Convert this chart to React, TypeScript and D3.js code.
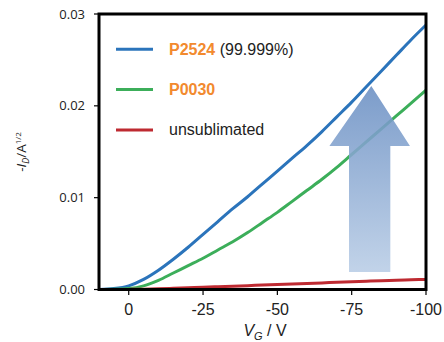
import React from "react";
import * as d3 from "d3";

const vg = [10, 5, 0, -5, -10, -15, -20, -25, -30, -35, -40, -45, -50, -55, -60, -65, -70, -75, -80, -85, -90, -95, -100];
const p2524 = [0, 0.0001, 0.0004, 0.0011, 0.0021, 0.0033, 0.0046, 0.006, 0.0074, 0.0088, 0.0101, 0.0115, 0.0129, 0.0143, 0.0157, 0.0172, 0.0188, 0.0204, 0.0221, 0.0238, 0.0255, 0.0272, 0.0288];
const p0030 = [0, 0.00002, 0.0001, 0.0004, 0.001, 0.0018, 0.0026, 0.0034, 0.0043, 0.0052, 0.0062, 0.0073, 0.0084, 0.0096, 0.0108, 0.012, 0.0133, 0.0147, 0.0161, 0.0175, 0.0189, 0.0203, 0.0217];
const unsub = [0, 0, 0.00001, 0.00004, 0.00008, 0.00013, 0.00019, 0.00025, 0.0003, 0.00036, 0.00042, 0.00048, 0.00054, 0.0006, 0.00066, 0.00072, 0.00078, 0.00084, 0.0009, 0.00096, 0.001, 0.00105, 0.0011];
const xTicks = [0, -25, -50, -75, -100];
const yTicks = [0, 0.01, 0.02, 0.03];

const series = [
  { name: "P2524", extra: " (99.999%)", values: p2524, color: "#2b74bb", bold: true },
  { name: "P0030", extra: "", values: p0030, color: "#3cae5a", bold: true },
  { name: "unsublimated", extra: "", values: unsub, color: "#be2a31", bold: false },
];

export default function App() {
  const left = 99, right = 426, top = 14, bottom = 289.5;
  const x = d3.scaleLinear().domain([10, -100]).range([left, right]);
  const y = d3.scaleLinear().domain([0, 0.03]).range([bottom, top]);
  const line = d3
    .line<number>()
    .x((_, i) => x(vg[i]))
    .y((d) => y(d))
    .curve(d3.curveMonotoneX);

  return (
    <svg width={444} height={342} style={{ position: "absolute", left: 0, top: 0 }}>
      <defs>
        <clipPath id="plot">
          <rect x={left} y={top} width={right - left} height={bottom - top} />
        </clipPath>
        <linearGradient id="arrowGrad" x1="0" y1="0" x2="0" y2="1">
          <stop offset="0%" stopColor="#6a8fc3" />
          <stop offset="100%" stopColor="#b9cde6" />
        </linearGradient>
      </defs>
      <rect width={444} height={342} fill="#fff" />
      <g clipPath="url(#plot)">
        {series.map((s) => (
          <path key={s.name} d={line(s.values) || ""} fill="none" stroke={s.color} strokeWidth={3} />
        ))}
      </g>
      {/* arrow */}
      <path
        d={`M${x(-81.6)},86 L${x(-94.6)},146 L${x(-88)},146 L${x(-88)},272 L${x(-74.1)},272 L${x(-74.1)},146 L${x(-67.5)},146 Z`}
        fill="url(#arrowGrad)"
        opacity={0.88}
      />
      {/* frame */}
      <rect x={left} y={top} width={right - left} height={bottom - top} fill="none" stroke="#000" strokeWidth={3} />
      {/* y ticks */}
      {yTicks.map((t) => (
        <g key={t}>
          <line x1={left - 5} x2={left} y1={y(t)} y2={y(t)} stroke="#000" strokeWidth={1.2} />
          <text x={85} y={y(t) + 4.5} textAnchor="end" fontFamily="'Open Sans', sans-serif" fontSize={13} fill="#222">
            {t.toFixed(2)}
          </text>
        </g>
      ))}
      {xTicks.map((t) => (
        <g key={t}>
          <line x1={x(t)} x2={x(t)} y1={bottom} y2={bottom + 5.5} stroke="#000" strokeWidth={1.2} />
          <text x={x(t)} y={315} textAnchor="middle" fontFamily="'Liberation Sans', Arial, sans-serif" fontSize={16} fill="#222">
            {t === 0 ? "0" : String(t)}
          </text>
        </g>
      ))}
      {/* x label */}
      <text x={265} y={336} textAnchor="middle" fontFamily="'Liberation Sans', Arial, sans-serif" fontSize={16} fill="#222">
        <tspan fontStyle="italic">V</tspan>
        <tspan fontStyle="italic" fontSize={11} dy={4}>G</tspan>
        <tspan dy={-4}> / V</tspan>
      </text>
      {/* y label */}
      <text
        transform="translate(26,152) rotate(-90)"
        textAnchor="middle"
        fontFamily="'Open Sans', sans-serif"
        fontSize={13.5}
        fill="#222"
      >
        <tspan>-</tspan>
        <tspan fontStyle="italic">I</tspan>
        <tspan fontStyle="italic" fontSize={9} dy={3}>D</tspan>
        <tspan dy={-3}>/A</tspan>
        <tspan fontSize={8} dy={-5}>1/2</tspan>
      </text>
      {/* legend */}
      {series.map((s, i) => {
        const ly = 49.3 + i * 40.3;
        return (
          <g key={s.name}>
            <line x1={116} x2={153} y1={ly} y2={ly} stroke={s.color} strokeWidth={3} />
            <text x={169} y={ly + 5.5} fontFamily="'Liberation Sans', Arial, sans-serif" fontSize={16} fill="#222">
              {s.bold ? (
                <tspan fontWeight="bold" fill="#f28a2e">{s.name}</tspan>
              ) : (
                <tspan>{s.name}</tspan>
              )}
              {s.extra ? <tspan>{s.extra}</tspan> : null}
            </text>
          </g>
        );
      })}
    </svg>
  );
}
